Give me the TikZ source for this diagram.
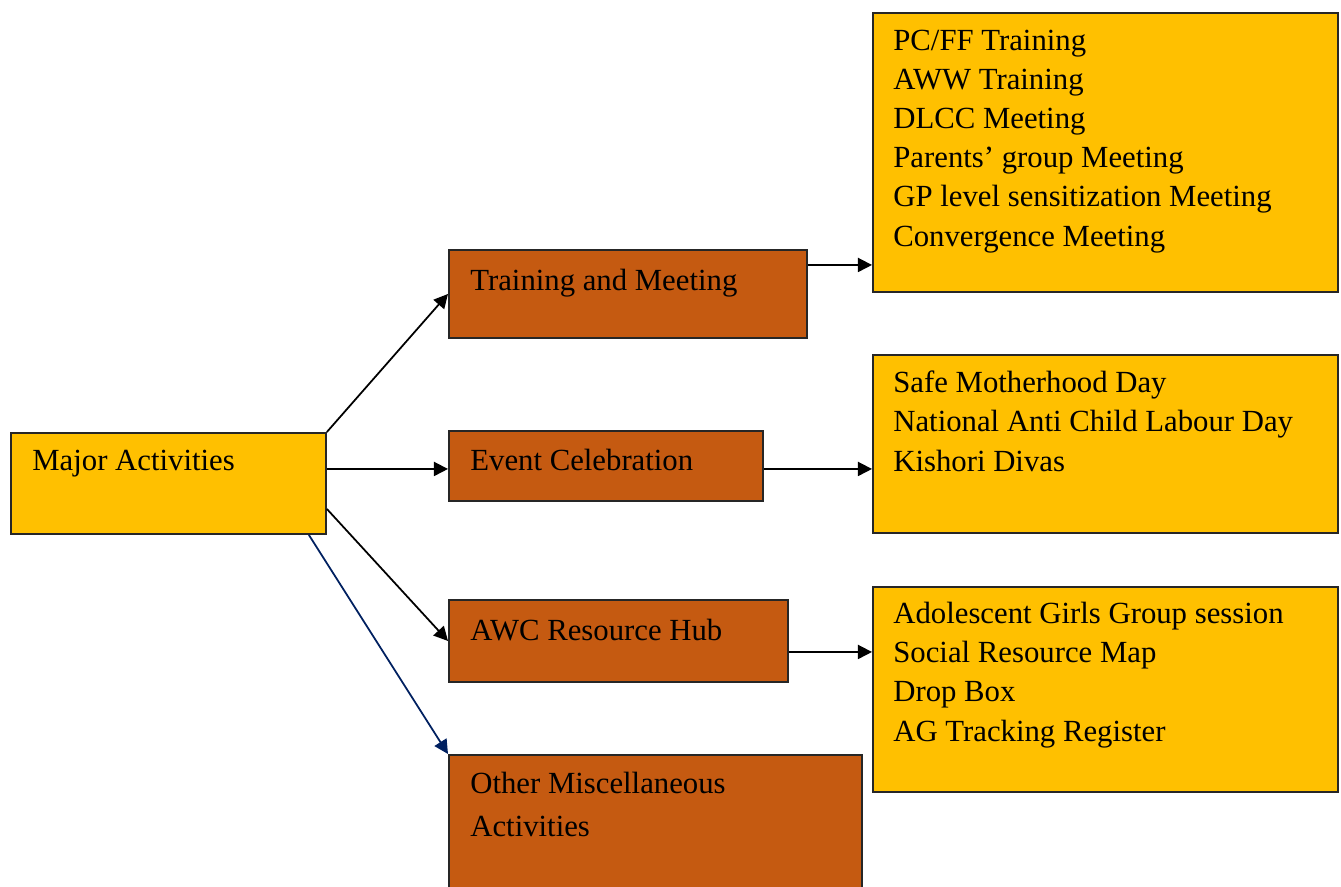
\documentclass[tikz,border=0pt]{standalone}
\usepackage{fontspec}
\setmainfont{Liberation Serif}
\usetikzlibrary{arrows.meta}
\definecolor{gold}{RGB}{255,192,0}
\definecolor{rust}{RGB}{197,90,17}
\definecolor{navy}{RGB}{0,32,96}
\tikzset{
  goldbox/.style={draw=black!85,line width=1.1pt,fill=gold,anchor=north west,inner sep=0pt},
  rustbox/.style={draw=black!85,line width=1.1pt,fill=rust,anchor=north west,inner sep=0pt},
  txt/.style={anchor=base west,inner sep=0pt,align=left,font=\fontsize{17.5}{22.3}\selectfont},
  link/.style={line width=1pt,-{Triangle[length=8pt,width=8pt]}}
}
\begin{document}
\begin{tikzpicture}[x=0.02cm,y=-0.02cm]
\useasboundingbox (0,0) rectangle (1341,886);
\path
  coordinate (cmaj) at (10,432)
  coordinate (ctrain) at (448,249)
  coordinate (cevent) at (448,430)
  coordinate (cawc) at (448,599)
  coordinate (cmisc) at (448,754)
  coordinate (clist1) at (872,12)
  coordinate (clist2) at (872,354)
  coordinate (clist3) at (872,586)
  ;
% boxes
\node[goldbox,minimum width=6.3cm,minimum height=2.02cm] (major) at (cmaj) {};
\node[rustbox,minimum width=7.16cm,minimum height=1.76cm] (train) at (ctrain) {};
\node[rustbox,minimum width=6.28cm,minimum height=1.4cm] (event) at (cevent) {};
\node[rustbox,minimum width=6.78cm,minimum height=1.64cm] (awc) at (cawc) {};
\node[rustbox,minimum width=8.26cm,minimum height=3cm] (misc) at (cmisc) {};
\node[goldbox,minimum width=9.3cm,minimum height=5.58cm] (list1) at (clist1) {};
\node[goldbox,minimum width=9.3cm,minimum height=3.56cm] (list2) at (clist2) {};
\node[goldbox,minimum width=9.3cm,minimum height=4.1cm] (list3) at (clist3) {};
% texts (anchored on the last line)
\node[txt] (majortxt) at (32,470) {Major Activities};
\node[txt] (traintxt) at (470,290) {Training and Meeting};
\node[txt] (eventtxt) at (470,470) {Event Celebration};
\node[txt] (awctxt) at (470,640) {AWC Resource Hub};
\node[txt,font=\fontsize{17.5}{24.3}\selectfont] (misctxt) at (470,836) {Other Miscellaneous\\Activities};
\node[txt] (list1txt) at (893,246) {PC/FF Training\\AWW Training\\DLCC Meeting\\Parents’ group Meeting\\GP level sensitization Meeting\\Convergence Meeting};
\node[txt] (list2txt) at (893,471) {Safe Motherhood Day\\National Anti Child Labour Day\\Kishori Divas};
\node[txt] (list3txt) at (893,741) {Adolescent Girls Group session\\Social Resource Map\\Drop Box\\AG Tracking Register};
% arrows
\draw[link] (major.north east) -- (train.west);
\draw[link] ([yshift=-0.06cm]major.east |- event.west) -- ([yshift=-0.06cm]event.west);
\draw[link] ([yshift=-0.51cm]major.east) -- (awc.west);
\draw[link,draw=navy,fill=navy] ([xshift=-0.36cm]major.south east) -- (misc.north west);
\draw[link] ([yshift=0.58cm]train.east) -- ([yshift=0.58cm]train.east -| list1.west);
\draw[link] ([yshift=-0.06cm]event.east) -- ([yshift=-0.06cm]event.east -| list2.west);
\draw[link] ([yshift=-0.22cm]awc.east) -- ([yshift=-0.22cm]awc.east -| list3.west);
\end{tikzpicture}
\end{document}
